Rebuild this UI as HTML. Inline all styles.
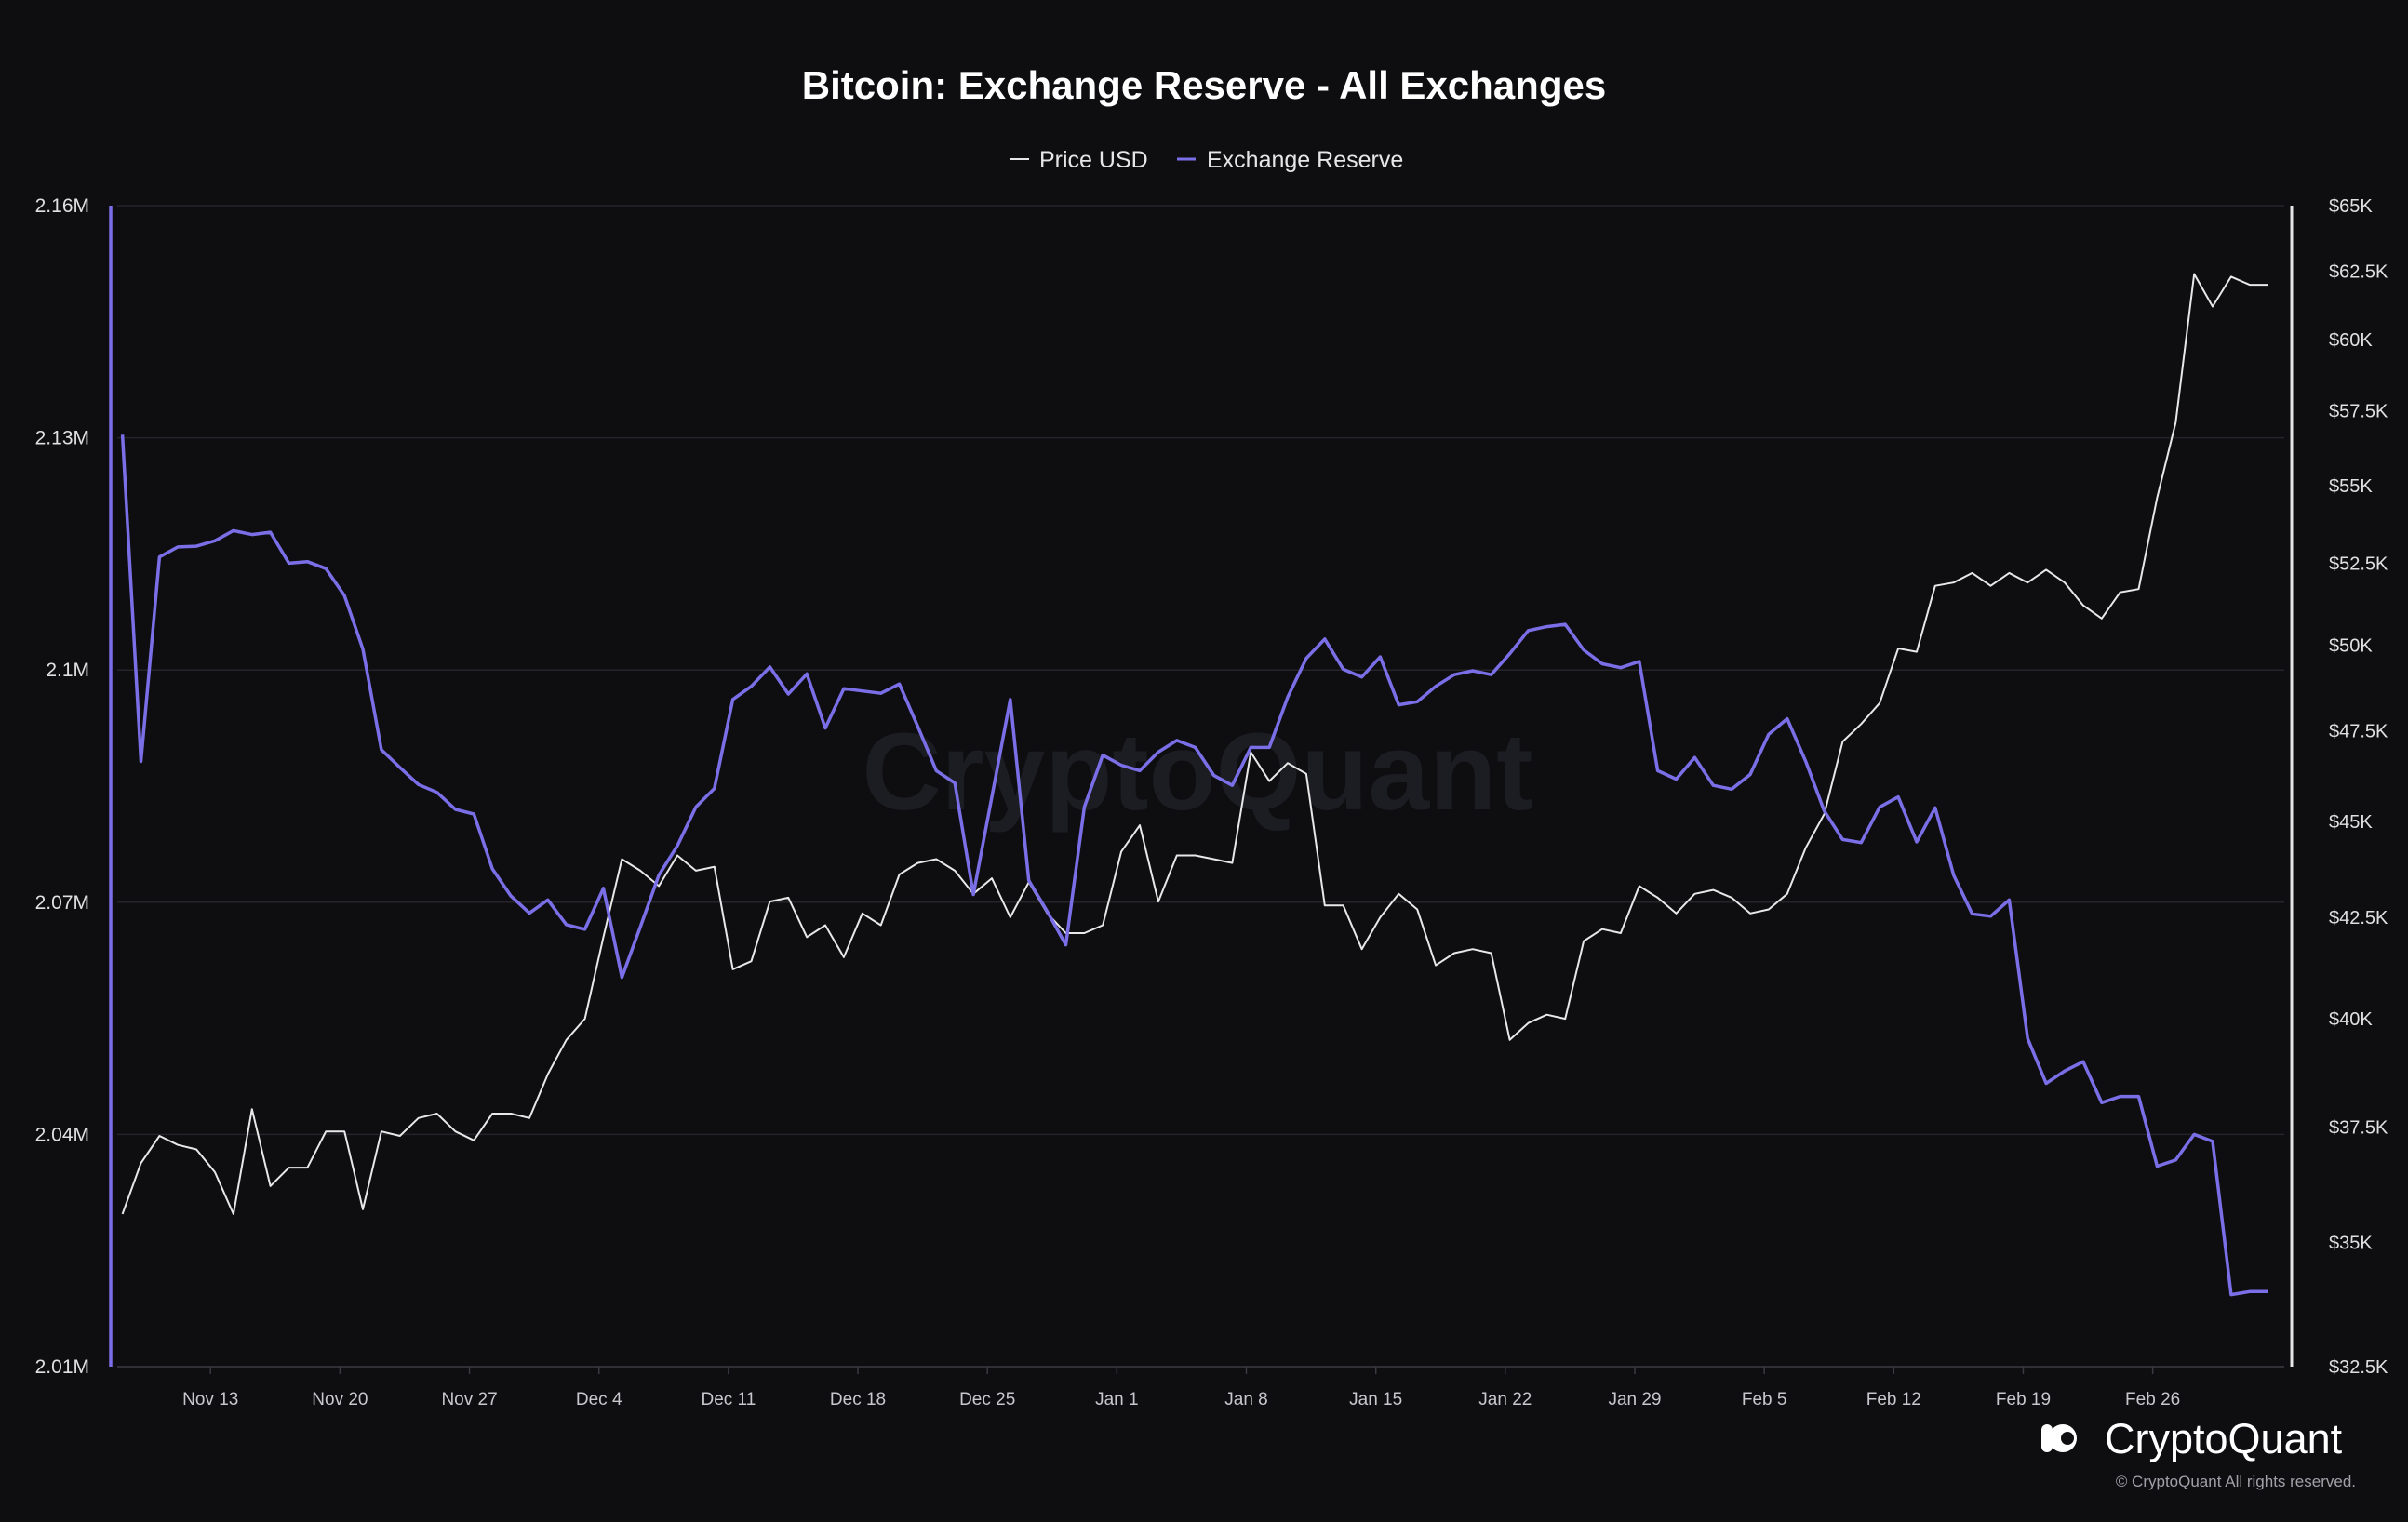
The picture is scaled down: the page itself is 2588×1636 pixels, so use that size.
<!DOCTYPE html>
<html><head><meta charset="utf-8"><style>
html,body{margin:0;padding:0;background:#0e0e11;}
svg{display:block;font-family:"Liberation Sans",sans-serif;}
</style></head><body>
<svg id="chart" width="2588" height="1636" viewBox="0 0 2588 1636" xmlns="http://www.w3.org/2000/svg">
<rect width="2588" height="1636" fill="#0e0e11"/>
<text x="1294" y="106" text-anchor="middle" font-size="42" font-weight="bold" fill="#ffffff">Bitcoin: Exchange Reserve - All Exchanges</text>
<g>
<g><line x1="1086" y1="171" x2="1106" y2="171" stroke="#e6e6e6" stroke-width="2"/><text x="1117" y="180" font-size="25" fill="#e6e6e6">Price USD</text></g>
<g><line x1="1265" y1="171" x2="1285" y2="171" stroke="#7b6fe8" stroke-width="3"/><text x="1297" y="180" font-size="25" fill="#e6e6e6">Exchange Reserve</text></g>
</g>
<text x="1287" y="870" text-anchor="middle" font-size="118" font-weight="bold" fill="#1c1c23">CryptoQuant</text>
<g id="grid"></g>
<g id="xaxis"></g>
<g id="yleft"></g>
<g id="yright"></g>
<g id="series"></g>
<g>
<circle cx="2217" cy="1546" r="15" fill="#ffffff"/><rect x="2194" y="1531" width="12" height="30" rx="6" fill="#ffffff"/><circle cx="2222" cy="1546" r="7" fill="#0e0e11"/>
<text x="2262" y="1562" font-size="45" fill="#ffffff">CryptoQuant</text>
<text x="2532" y="1598" text-anchor="end" font-size="17" fill="#a0a0a8">© CryptoQuant All rights reserved.</text>
</g>
</svg>
<script>
const reserve = [2.1304,2.0882,2.1146,2.1159,2.116,2.1167,2.118,2.1175,2.1178,2.1138,2.114,2.1131,2.1096,2.1027,2.0897,2.0874,2.0852,2.0842,2.082,2.0814,2.0743,2.0708,2.0686,2.0703,2.0671,2.0665,2.0718,2.0603,2.0668,2.0735,
2.0773,2.0823,2.0847,2.0962,2.0979,2.1004,2.0969,2.0995,2.0925,2.0976,2.0973,2.097,2.0982,2.0927,2.087,2.0854,2.071,2.0836,2.0962,2.0728,2.0688,2.0645,2.0823,2.089,2.0877,2.087,2.0894,2.0909,2.09,2.0864,
2.0851,2.09,2.09,2.0965,2.1015,2.104,2.1001,2.0991,2.1017,2.0955,2.0959,2.0979,2.0994,2.0999,2.0994,2.1021,2.1051,2.1056,2.1059,2.1026,2.1008,2.1003,2.1011,2.087,2.0859,2.0887,2.0851,2.0846,2.0865,2.0917,
2.0937,2.0882,2.0818,2.0781,2.0777,2.0823,2.0836,2.0778,2.0822,2.0735,2.0685,2.0682,2.0703,2.0524,2.0466,2.0482,2.0494,2.0441,2.0449,2.0449,2.0359,2.0367,2.04,2.0391,2.0193,2.0197,2.0197];
const price = [35.6,36.7,37.3,37.1,37.0,36.5,35.6,37.9,36.2,36.6,36.6,37.4,37.4,35.7,37.4,37.3,37.7,37.8,37.4,37.2,37.8,37.8,37.7,38.7,39.5,40.0,42.0,44.0,43.7,43.3,
44.1,43.7,43.8,41.2,41.4,42.9,43.0,42.0,42.3,41.5,42.6,42.3,43.6,43.9,44.0,43.7,43.1,43.5,42.5,43.4,42.6,42.1,42.1,42.3,44.2,44.9,42.9,44.1,44.1,44.0,
43.9,46.9,46.1,46.6,46.3,42.8,42.8,41.7,42.5,43.1,42.7,41.3,41.6,41.7,41.6,39.5,39.9,40.1,40.0,41.9,42.2,42.1,43.3,43.0,42.6,43.1,43.2,43.0,42.6,42.7,
43.1,44.3,45.2,47.2,47.7,48.3,49.9,49.8,51.8,51.9,52.2,51.8,52.2,51.9,52.3,51.9,51.2,50.8,51.6,51.7,54.6,57.1,62.4,61.2,62.3,62.0,62.0];
const xTickLabels = ["Nov 13","Nov 20","Nov 27","Dec 4","Dec 11","Dec 18","Dec 25","Jan 1","Jan 8","Jan 15","Jan 22","Jan 29","Feb 5","Feb 12","Feb 19","Feb 26"];
const xTickDays = [5,12,19,26,33,40,47,54,61,68,75,82,89,96,103,110];
const leftTicks = [2.01,2.04,2.07,2.1,2.13,2.16];
const leftTickLabels = ["2.01M","2.04M","2.07M","2.1M","2.13M","2.16M"];
const rightTicks = [32.5,35,37.5,40,42.5,45,47.5,50,52.5,55,57.5,60,62.5,65];
const rightTickLabels = ["$32.5K","$35K","$37.5K","$40K","$42.5K","$45K","$47.5K","$50K","$52.5K","$55K","$57.5K","$60K","$62.5K","$65K"];

const NS="http://www.w3.org/2000/svg";
const PL=119, PR=2463, PT=221, PB=1469;
const X0=131.6, DX=19.88;
const xs = d => X0 + DX*d;
const yL = v => PB - (v-2.01)/(2.16-2.01)*(PB-PT);
const yR = p => PB - Math.log(p/32.5)/Math.log(65/32.5)*(PB-PT);
function mk(tag, attrs, parent){const e=document.createElementNS(NS,tag);for(const k in attrs)e.setAttribute(k,attrs[k]);parent.appendChild(e);return e;}
const grid=document.getElementById('grid'), xa=document.getElementById('xaxis'), yl=document.getElementById('yleft'), yr=document.getElementById('yright'), ser=document.getElementById('series');

leftTicks.forEach((v,i)=>{
  const y=yL(v);
  if(i>0){const g=mk('line',{x1:126,x2:2455,y1:y,y2:y,stroke:'#24242a','stroke-width':1.5},grid);
  
  }
  const t=mk('text',{x:96,y:y+7,'text-anchor':'end','font-size':21,fill:'#e0e0e0'},yl);
  t.textContent=leftTickLabels[i];
  
  
});
rightTicks.forEach((p,i)=>{
  const t=mk('text',{x:2503,y:yR(p)+7,'font-size':20,fill:'#e0e0e0'},yr);
  t.textContent=rightTickLabels[i];
  
  
});
const base=mk('line',{x1:126,x2:2455,y1:PB,y2:PB,stroke:'#3a3a42','stroke-width':1.5},xa);


xTickDays.forEach((d,i)=>{
  const x=xs(d-0.24);
  const tk=mk('line',{x1:x,x2:x,y1:PB,y2:PB+8,stroke:'#3a3a42','stroke-width':1.5},xa);
  
  
  const t=mk('text',{x:x,y:1510,'text-anchor':'middle','font-size':19,fill:'#c8c8cc'},xa);
  t.textContent=xTickLabels[i];
  
  
});
const ra=mk('line',{x1:PR,x2:PR,y1:PT,y2:PB,stroke:'#e6e6e6','stroke-width':3},yr);


const la=mk('line',{x1:PL,x2:PL,y1:PT,y2:PB,stroke:'#7b6fe8','stroke-width':3.5},yl);



const pp=mk('polyline',{points:price.map((p,i)=>xs(i).toFixed(1)+','+yR(p).toFixed(1)).join(' '),fill:'none',stroke:'#e8e8e8','stroke-width':2,'stroke-linejoin':'round'},ser);


const rp=mk('polyline',{points:reserve.map((v,i)=>xs(i).toFixed(1)+','+yL(v).toFixed(1)).join(' '),fill:'none',stroke:'#7b6fe8','stroke-width':3.5,'stroke-linejoin':'round'},ser);


</script>
</body></html>
